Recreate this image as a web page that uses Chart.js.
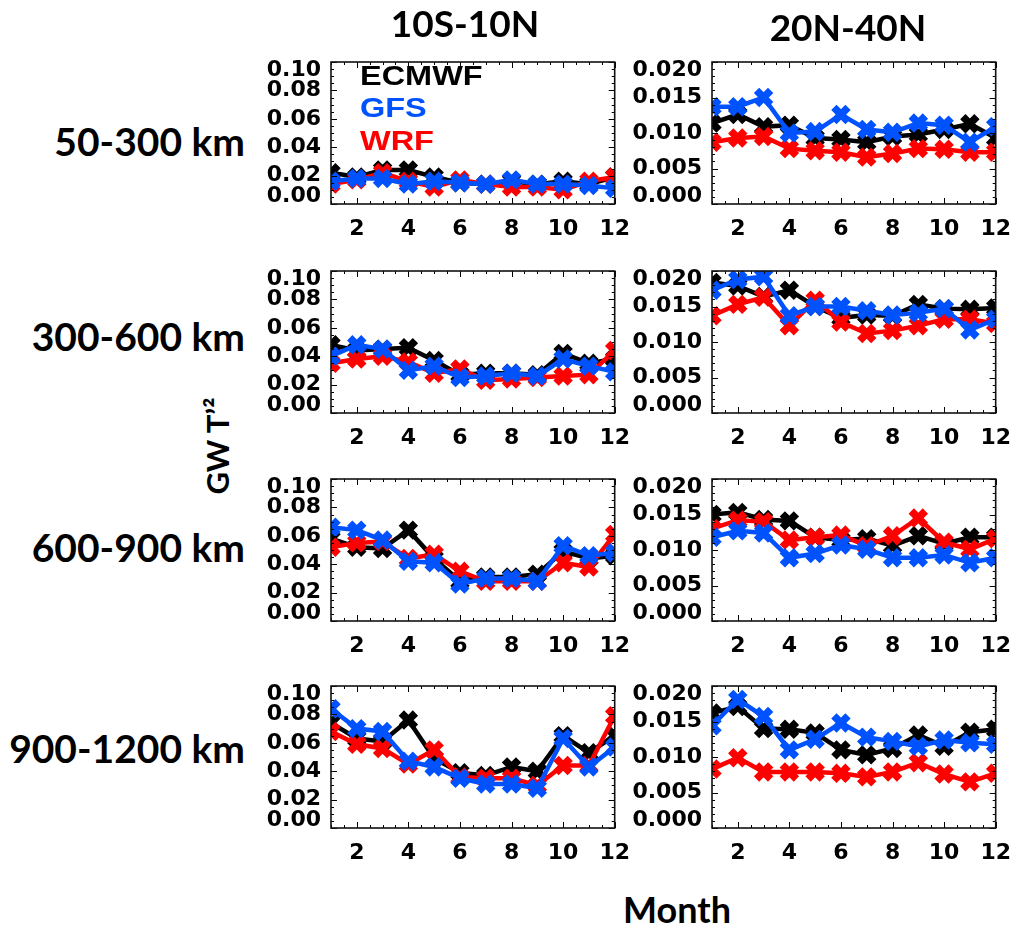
<!DOCTYPE html>
<html>
<head>
<meta charset="utf-8">
<script src="https://cdn.jsdelivr.net/npm/chart.js@4.4.1/dist/chart.umd.min.js"></script>
<style>
  html, body { margin: 0; padding: 0; background: #fff; }
  body { position: relative; width: 1019px; height: 928px; overflow: hidden; }
  canvas { position: absolute; }
  .lbl { position: absolute; font-family: Lato, "Open Sans", sans-serif; font-weight: 700; color: #000; white-space: nowrap; line-height: 1; }
  .key { position: absolute; font-family: "Liberation Sans", Arial, sans-serif; font-weight: 700; font-size: 28px; line-height: 1; white-space: nowrap; transform: scaleX(1.16); transform-origin: left center; }
</style>
</head>
<body>
<script>
// Months on the x axis and tick labels
const months = [1, 2, 3, 4, 5, 6, 7, 8, 9, 10, 11, 12];
const monthTicks = ['2', '4', '6', '8', '10', '12'];
const tropTicks = ['0.00', '0.02', '0.04', '0.06', '0.08', '0.10'];
const midTicks = ['0.000', '0.005', '0.010', '0.015', '0.020'];

const regions = ['10S-10N', '20N-40N'];
const bands = ['50-300 km', '300-600 km', '600-900 km', '900-1200 km'];
const models = ['ECMWF', 'GFS', 'WRF'];

// 10S-10N
const ecmwfTrop1 = [0.022, 0.019, 0.024, 0.024, 0.019, 0.015, 0.014, 0.016, 0.014, 0.016, 0.014, 0.019];
const gfsTrop1   = [0.016, 0.018, 0.018, 0.014, 0.016, 0.015, 0.014, 0.017, 0.014, 0.014, 0.013, 0.011];
const wrfTrop1   = [0.014, 0.017, 0.022, 0.016, 0.012, 0.017, 0.014, 0.012, 0.012, 0.010, 0.016, 0.019];

const ecmwfTrop2 = [0.048, 0.044, 0.045, 0.046, 0.037, 0.027, 0.028, 0.028, 0.027, 0.042, 0.035, 0.038];
const gfsTrop2   = [0.040, 0.048, 0.045, 0.030, 0.033, 0.025, 0.026, 0.028, 0.026, 0.038, 0.033, 0.029];
const wrfTrop2   = [0.035, 0.038, 0.040, 0.036, 0.028, 0.031, 0.023, 0.024, 0.025, 0.026, 0.027, 0.044];

const ecmwfTrop3 = [0.058, 0.052, 0.051, 0.064, 0.044, 0.028, 0.031, 0.031, 0.033, 0.049, 0.044, 0.046];
const gfsTrop3   = [0.066, 0.064, 0.057, 0.042, 0.041, 0.026, 0.030, 0.030, 0.028, 0.053, 0.046, 0.048];
const wrfTrop3   = [0.052, 0.055, 0.056, 0.044, 0.047, 0.035, 0.028, 0.028, 0.028, 0.041, 0.038, 0.061];

const ecmwfTrop4 = [0.074, 0.063, 0.061, 0.076, 0.049, 0.039, 0.037, 0.043, 0.040, 0.065, 0.053, 0.065];
const gfsTrop4   = [0.084, 0.070, 0.068, 0.047, 0.043, 0.035, 0.031, 0.031, 0.028, 0.063, 0.043, 0.057];
const wrfTrop4   = [0.068, 0.059, 0.056, 0.045, 0.055, 0.036, 0.035, 0.035, 0.030, 0.044, 0.044, 0.079];

// 20N-40N
const ecmwfMid1 = [0.0114, 0.0126, 0.0109, 0.0111, 0.0093, 0.0091, 0.0087, 0.0095, 0.0098, 0.0105, 0.0113, 0.0093];
const gfsMid1   = [0.0137, 0.0137, 0.0150, 0.0100, 0.0102, 0.0126, 0.0105, 0.0101, 0.0114, 0.0111, 0.0087, 0.0109];
const wrfMid1   = [0.0087, 0.0093, 0.0095, 0.0078, 0.0075, 0.0073, 0.0066, 0.0071, 0.0078, 0.0077, 0.0073, 0.0073];

const ecmwfMid2 = [0.0184, 0.0179, 0.0164, 0.0173, 0.0150, 0.0134, 0.0138, 0.0137, 0.0153, 0.0147, 0.0146, 0.0148];
const gfsMid2   = [0.0173, 0.0188, 0.0192, 0.0137, 0.0150, 0.0150, 0.0144, 0.0138, 0.0141, 0.0147, 0.0117, 0.0132];
const wrfMid2   = [0.0137, 0.0153, 0.0163, 0.0123, 0.0159, 0.0128, 0.0112, 0.0116, 0.0123, 0.0132, 0.0132, 0.0126];

const ecmwfMid3 = [0.0150, 0.0153, 0.0143, 0.0141, 0.0118, 0.0114, 0.0116, 0.0106, 0.0120, 0.0109, 0.0118, 0.0118];
const gfsMid3   = [0.0118, 0.0127, 0.0124, 0.0089, 0.0095, 0.0107, 0.0101, 0.0089, 0.0089, 0.0093, 0.0082, 0.0089];
const wrfMid3   = [0.0130, 0.0142, 0.0140, 0.0114, 0.0118, 0.0121, 0.0106, 0.0120, 0.0145, 0.0111, 0.0101, 0.0116];

const ecmwfMid4 = [0.0162, 0.0171, 0.0140, 0.0139, 0.0134, 0.0110, 0.0103, 0.0112, 0.0131, 0.0115, 0.0135, 0.0139];
const gfsMid4   = [0.0144, 0.0181, 0.0157, 0.0110, 0.0125, 0.0148, 0.0128, 0.0122, 0.0115, 0.0124, 0.0120, 0.0118];
const wrfMid4   = [0.0083, 0.0099, 0.0079, 0.0079, 0.0079, 0.0077, 0.0072, 0.0079, 0.0092, 0.0076, 0.0065, 0.0077];

// ---- styling / layout ----
const modelColors = ['#000000', '#0052ff', '#ff0000'];
const drawOrder = [2, 0, 1];          // GFS on top, then WRF, ECMWF underneath
const colLeft = [331, 712];
const rowTop = [56, 265, 473, 680];
const PLOT_W = 289, PLOT_H = 148;
const Y_AXIS_W = 85, X_AXIS_H = 42, PAD_T = 20, PAD_R = 22;
const TICK_FONT = 'DejaVu Sans';

const panels = [
  { col: 0, row: 0, sets: [ecmwfTrop1, gfsTrop1, wrfTrop1] },
  { col: 1, row: 0, sets: [ecmwfMid1, gfsMid1, wrfMid1] },
  { col: 0, row: 1, sets: [ecmwfTrop2, gfsTrop2, wrfTrop2] },
  { col: 1, row: 1, sets: [ecmwfMid2, gfsMid2, wrfMid2] },
  { col: 0, row: 2, sets: [ecmwfTrop3, gfsTrop3, wrfTrop3] },
  { col: 1, row: 2, sets: [ecmwfMid3, gfsMid3, wrfMid3] },
  { col: 0, row: 3, sets: [ecmwfTrop4, gfsTrop4, wrfTrop4] },
  { col: 1, row: 3, sets: [ecmwfMid4, gfsMid4, wrfMid4] }
];

// Box frame with inward major/minor ticks on all four sides
const framePlugin = {
  id: 'idlFrame',
  afterDatasetsDraw(chart, args, opts) {
    const { ctx, chartArea: a, scales: { x, y } } = chart;
    const MAJ = 6, MIN = 3;
    ctx.save();
    ctx.strokeStyle = '#000';
    ctx.lineWidth = 1;
    ctx.beginPath();
    for (let k = 0; k <= 22; k++) {
      const v = 1 + k * 0.5;
      const px = Math.round(x.getPixelForValue(v)) + 0.5;
      const len = (v % 2 === 0) ? MAJ : MIN;
      ctx.moveTo(px, a.bottom); ctx.lineTo(px, a.bottom - len);
      ctx.moveTo(px, a.top); ctx.lineTo(px, a.top + len);
    }
    const n = Math.round(opts.yMax / opts.yMinor);
    for (let k = 0; k <= n; k++) {
      const py = Math.round(y.getPixelForValue(k * opts.yMinor)) + 0.5;
      const len = (k % opts.perMajor === 0) ? MAJ : MIN;
      ctx.moveTo(a.left, py); ctx.lineTo(a.left + len, py);
      ctx.moveTo(a.right, py); ctx.lineTo(a.right - len, py);
    }
    ctx.stroke();
    ctx.lineWidth = 1.6;
    ctx.strokeStyle = '#111';
    ctx.strokeRect(a.left, a.top, a.right - a.left, a.bottom - a.top);
    ctx.restore();
  }
};

function addText(cls, text, style) {
  const d = document.createElement('div');
  d.className = cls;
  d.textContent = text;
  Object.assign(d.style, style);
  document.body.appendChild(d);
  return d;
}

panels.forEach(p => {
  const yLabels = p.col === 0 ? tropTicks : midTicks;
  const yMax = parseFloat(yLabels[yLabels.length - 1]);
  const canvas = document.createElement('canvas');
  canvas.width = Y_AXIS_W + PLOT_W + PAD_R;
  canvas.height = PAD_T + PLOT_H + X_AXIS_H;
  canvas.style.left = (colLeft[p.col] - Y_AXIS_W) + 'px';
  canvas.style.top = (rowTop[p.row] - PAD_T) + 'px';
  document.body.appendChild(canvas);

  new Chart(canvas, {
    type: 'line',
    data: {
      datasets: p.sets.map((vals, i) => ({
        label: models[i],
        data: months.map((m, j) => ({ x: m, y: vals[j] })),
        borderColor: modelColors[i],
        backgroundColor: modelColors[i],
        pointBorderColor: modelColors[i],
        pointBackgroundColor: modelColors[i],
        borderWidth: 4.5,
        pointStyle: 'crossRot',
        pointRadius: 10,
        pointBorderWidth: 7.5,
        tension: 0,
        order: drawOrder[i]
      }))
    },
    options: {
      responsive: false,
      animation: false,
      events: [],
      layout: { padding: { left: 0, right: PAD_R, top: PAD_T, bottom: 0 } },
      plugins: {
        legend: { display: false },
        tooltip: { enabled: false },
        idlFrame: { yMax: yMax, yMinor: p.col === 0 ? 0.005 : 0.001, perMajor: p.col === 0 ? 4 : 5 }
      },
      scales: {
        x: {
          type: 'linear', min: 1, max: 12,
          afterBuildTicks: s => { s.ticks = monthTicks.map(t => ({ value: parseFloat(t) })); },
          afterFit: s => { s.height = X_AXIS_H; },
          grid: { display: false, drawTicks: false },
          border: { display: false },
          ticks: {
            autoSkip: false, maxRotation: 0, padding: 12, color: '#000',
            font: { family: TICK_FONT, size: 22, weight: 'bold', lineHeight: 1.2 },
            callback: (v, i) => monthTicks[i]
          }
        },
        y: {
          type: 'linear', min: 0, max: yMax,
          afterBuildTicks: s => { s.ticks = yLabels.map(t => ({ value: parseFloat(t) })); },
          afterFit: s => { s.width = Y_AXIS_W; },
          grid: { display: false, drawTicks: false },
          border: { display: false },
          ticks: {
            autoSkip: false, padding: 10, color: '#000',
            font: { family: TICK_FONT, size: 22, weight: 'bold', lineHeight: '16px' },
            // end labels are nudged inside the frame
            callback: (v, i, arr) => i === 0 ? [yLabels[i], ''] : (i === arr.length - 1 ? ['', yLabels[i]] : yLabels[i])
          }
        }
      }
    },
    plugins: [framePlugin]
  });
});

// Column and row titles
addText('lbl', regions[0], { left: '465px', top: '4px', fontSize: '37px', transform: 'translateX(-50%)' });
addText('lbl', regions[1], { left: '848px', top: '8px', fontSize: '37px', transform: 'translateX(-50%)' });
const bandY = [143, 338, 549, 750];
bands.forEach((b, i) => {
  addText('lbl', b, { right: (1019 - 245) + 'px', top: (bandY[i] - 21) + 'px', fontSize: '39px' });
});
addText('lbl', 'GW T\u2019\u00B2', { left: '217px', top: '446px', fontSize: '31px', transform: 'translate(-50%, -50%) rotate(-90deg)' });
addText('lbl', 'Month', { left: '677px', top: '891px', fontSize: '36px', transform: 'translateX(-50%)' });

// Model key inside the first panel
const keyY = [76, 108, 141];
models.forEach((m, i) => {
  addText('key', m, { left: '360px', top: (keyY[i] - 14) + 'px', color: modelColors[i] });
});
</script>
</body>
</html>
